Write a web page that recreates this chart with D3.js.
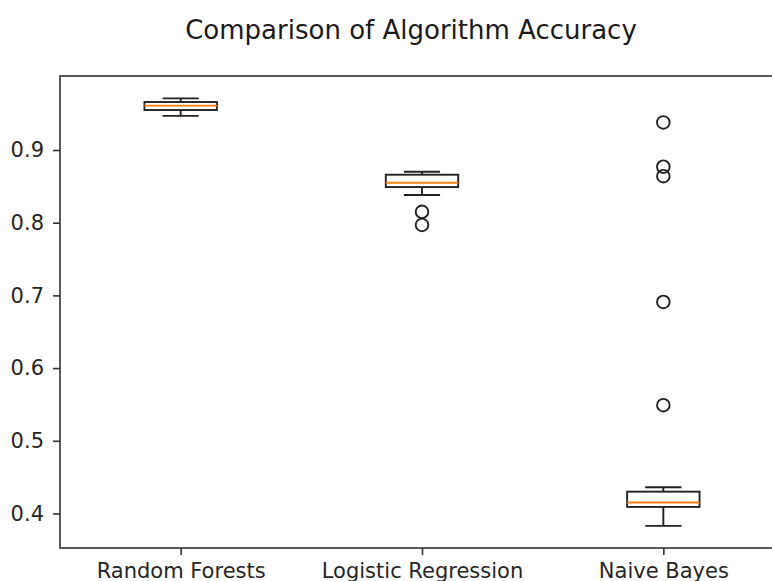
<!DOCTYPE html>
<html>
<head>
<meta charset="utf-8">
<script src="https://cdn.jsdelivr.net/npm/d3@7"></script>
<style>
  body { margin: 0; background: #fff; }
  svg { display: block; font-family: "DejaVu Sans", sans-serif; }
</style>
</head>
<body>
<div id="chart"></div>
<script>
// datos del boxplot
var categorias = ["Random Forests", "Logistic Regression", "Naive Bayes"];
var bigoteMin = [0.947, 0.838, 0.383];
var q1 = [0.955, 0.849, 0.409];
var mediana = [0.961, 0.855, 0.415];
var q3 = [0.966, 0.866, 0.430];
var bigoteMax = [0.971, 0.870, 0.436];
var atipicos = [[], [0.815, 0.797], [0.938, 0.877, 0.864, 0.691, 0.549]];
var ticksY = [0.4, 0.5, 0.6, 0.7, 0.8, 0.9];

var width = 772;
var height = 581;
var margin = { top: 76, left: 60, bottom: 548, right: 784 };

var svg = d3.select("#chart")
  .append("svg")
  .attr("width", width)
  .attr("height", height);

var x = d3.scaleLinear().domain([0.5, 3.5]).range([margin.left, margin.right]);
var y = d3.scaleLinear().domain([0.3525, 1.0018]).range([margin.bottom, margin.top]);

var lw = 1.9;
var boxW = 0.3, capW = 0.15;

// titulo
svg.append("text")
  .attr("x", 411)
  .attr("y", 39)
  .attr("text-anchor", "middle")
  .style("font-size", "26px")
  .style("fill", "#1a1a1a")
  .text("Comparison of Algorithm Accuracy");

// ejes
var ejeY = svg.append("g")
  .attr("transform", "translate(" + margin.left + ",0)")
  .call(d3.axisLeft(y).tickValues(ticksY).tickFormat(d3.format(".1f")).tickSize(7).tickPadding(9));

var ejeX = svg.append("g")
  .attr("transform", "translate(0," + margin.bottom + ")")
  .call(d3.axisBottom(x).tickValues([1, 2, 3]).tickFormat(function(d) { return categorias[d - 1]; }).tickSize(7).tickPadding(8));

[ejeY, ejeX].forEach(function(g) {
  g.select(".domain").remove();
  g.selectAll("line").attr("stroke", "#333").attr("stroke-width", 1.6);
  g.selectAll("text").style("font-size", "21px").style("fill", "#262626").attr("font-family", "DejaVu Sans, sans-serif");
});

// marco
svg.append("rect")
  .attr("x", margin.left)
  .attr("y", margin.top)
  .attr("width", margin.right - margin.left)
  .attr("height", margin.bottom - margin.top)
  .attr("fill", "none")
  .attr("stroke", "#333")
  .attr("stroke-width", 1.6);

// cajas
var cajas = svg.selectAll("g.caja")
  .data(categorias)
  .enter()
  .append("g")
  .attr("class", "caja");

cajas.each(function(d, i) {
  var g = d3.select(this);
  var p = i + 1;
  // bigotes
  g.append("line")
    .attr("x1", x(p)).attr("x2", x(p))
    .attr("y1", y(q3[i])).attr("y2", y(bigoteMax[i]))
    .attr("stroke", "#222").attr("stroke-width", lw);
  g.append("line")
    .attr("x1", x(p)).attr("x2", x(p))
    .attr("y1", y(q1[i])).attr("y2", y(bigoteMin[i]))
    .attr("stroke", "#222").attr("stroke-width", lw);
  // caps
  [bigoteMin[i], bigoteMax[i]].forEach(function(v) {
    g.append("line")
      .attr("x1", x(p - capW / 2)).attr("x2", x(p + capW / 2))
      .attr("y1", y(v)).attr("y2", y(v))
      .attr("stroke", "#222").attr("stroke-width", lw);
  });
  // caja
  g.append("rect")
    .attr("x", x(p - boxW / 2))
    .attr("y", y(q3[i]))
    .attr("width", x(p + boxW / 2) - x(p - boxW / 2))
    .attr("height", y(q1[i]) - y(q3[i]))
    .attr("fill", "none")
    .attr("stroke", "#222").attr("stroke-width", lw);
  // mediana
  g.append("line")
    .attr("x1", x(p - boxW / 2)).attr("x2", x(p + boxW / 2))
    .attr("y1", y(mediana[i])).attr("y2", y(mediana[i]))
    .attr("stroke", "#ff7f0e").attr("stroke-width", lw);
  // atipicos
  g.selectAll("circle")
    .data(atipicos[i])
    .enter()
    .append("circle")
    .attr("cx", x(p))
    .attr("cy", function(v) { return y(v); })
    .attr("r", 6.3)
    .attr("fill", "none")
    .attr("stroke", "#222")
    .attr("stroke-width", lw);
});
</script>
</body>
</html>
